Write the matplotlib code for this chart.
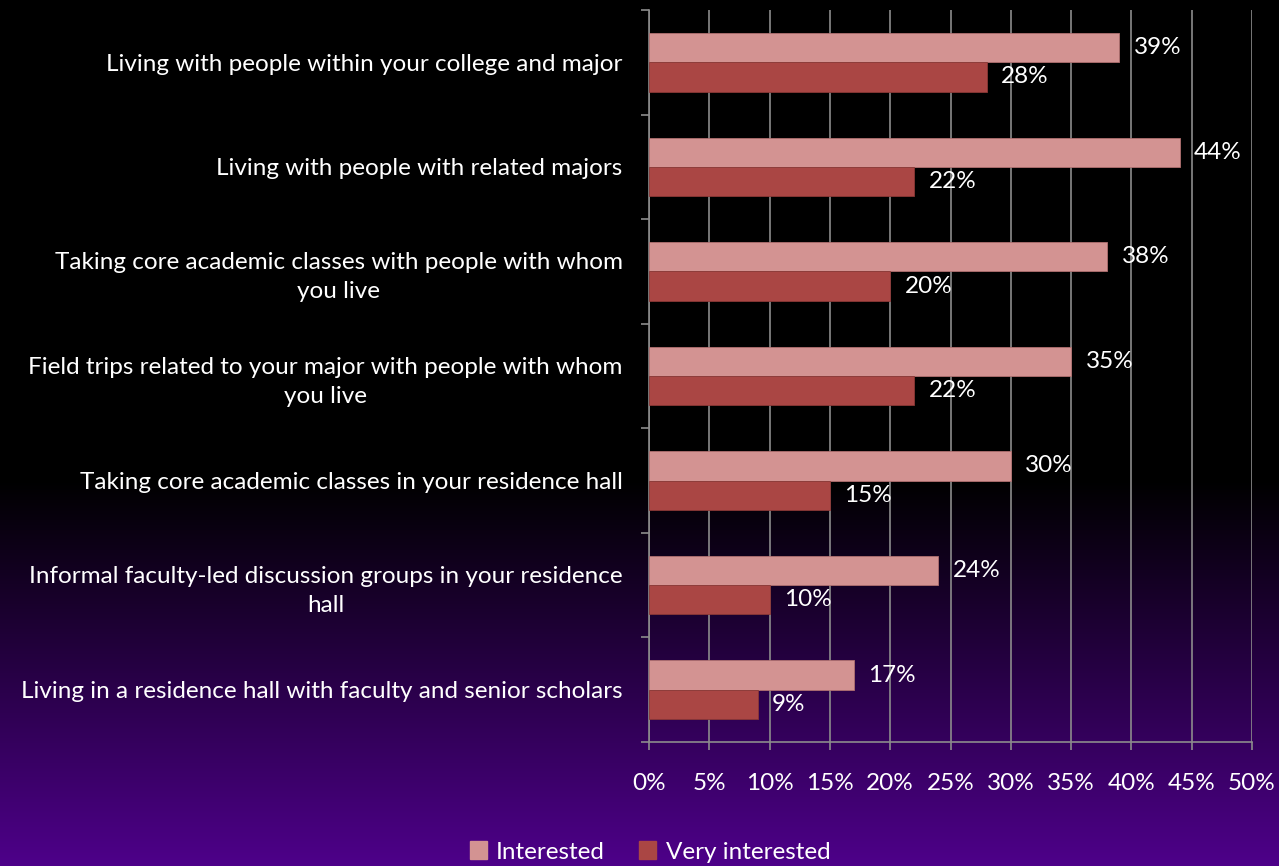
import numpy as np
import matplotlib
matplotlib.use("Agg")
import matplotlib.pyplot as plt
from matplotlib.patches import Patch

plt.rcParams['font.family'] = ['Lato', 'DejaVu Sans']

categories = [
    "Living with people within your college and major",
    "Living with people with related majors",
    "Taking core academic classes with people with whom\nyou live",
    "Field trips related to your major with people with whom\nyou live",
    "Taking core academic classes in your residence hall",
    "Informal faculty-led discussion groups in your residence\nhall",
    "Living in a residence hall with faculty and senior scholars",
]
interested = [39, 44, 38, 35, 30, 24, 17]
very_interested = [28, 22, 20, 22, 15, 10, 9]
xticks = [0, 5, 10, 15, 20, 25, 30, 35, 40, 45, 50]

col_int = "#D39392"
col_very = "#AA4644"
grid_col = "#8C8C8C"
fs = 17.5

fig = plt.figure(figsize=(12.79, 8.66), dpi=100)

# background: black fading to indigo toward the bottom
bg = fig.add_axes([0, 0, 1, 1], zorder=-1)
h = 866
rows = np.arange(h)
t = np.clip((rows - 480) / (h - 480), 0, 1)[:, None]
purple = np.array([78, 0, 138]) / 255.0
img = (t * purple)[:, None, :] * np.ones((1, 4, 1))
bg.imshow(img, aspect="auto", extent=[0, 1, 0, 1], origin="upper")
bg.axis("off")

ax = fig.add_axes([649 / 1279, 1 - 742 / 866, 603 / 1279, 732 / 866])
ax.set_facecolor("none")

n = len(categories)
y = np.arange(n)
bh = 0.28
ax.barh(y - bh / 2, interested, height=bh, color=col_int, edgecolor="#B07070", linewidth=0.6, zorder=3)
ax.barh(y + bh / 2, very_interested, height=bh, color=col_very, edgecolor="#8A3836", linewidth=0.6, zorder=3)

for i in range(n):
    ax.text(interested[i] + 1.2, y[i] - bh / 2, f"{interested[i]}%", color="white",
            fontsize=fs, va="center", ha="left", zorder=4)
    ax.text(very_interested[i] + 1.2, y[i] + bh / 2, f"{very_interested[i]}%", color="white",
            fontsize=fs, va="center", ha="left", zorder=4)

ax.set_ylim(n - 0.5, -0.5)
ax.set_xlim(0, 50)
ax.set_xticks(xticks)
ax.set_xticklabels([f"{v}%" for v in xticks], color="white", fontsize=fs)
ax.tick_params(axis="x", length=6, color=grid_col, pad=16, width=1.2)

ax.set_yticks(np.arange(-0.5, n, 1.0))
ax.set_yticklabels([])
ax.tick_params(axis="y", length=6, color=grid_col, width=1.2)
ax.set_yticks(y, minor=True)
ax.set_yticklabels(categories, minor=True, color="white", fontsize=fs,
                   multialignment="center", linespacing=1.45)
ax.tick_params(axis="y", which="minor", length=0, pad=19)

ax.grid(axis="x", color=grid_col, linewidth=1.2, zorder=0)
for side in ["top", "right"]:
    ax.spines[side].set_visible(False)
for side in ["left", "bottom"]:
    ax.spines[side].set_color(grid_col)
    ax.spines[side].set_linewidth(1.2)

handles = [Patch(color=col_int, label="Interested"), Patch(color=col_very, label="Very interested")]
fig.legend(handles=handles, loc="center", bbox_to_anchor=(650 / 1279, 1 - 852 / 866), ncol=2,
           frameon=False, fontsize=fs, labelcolor="white", handlelength=0.7, handleheight=0.7,
           handletextpad=0.4, columnspacing=1.4)

fig.savefig("out.png", dpi=100)
